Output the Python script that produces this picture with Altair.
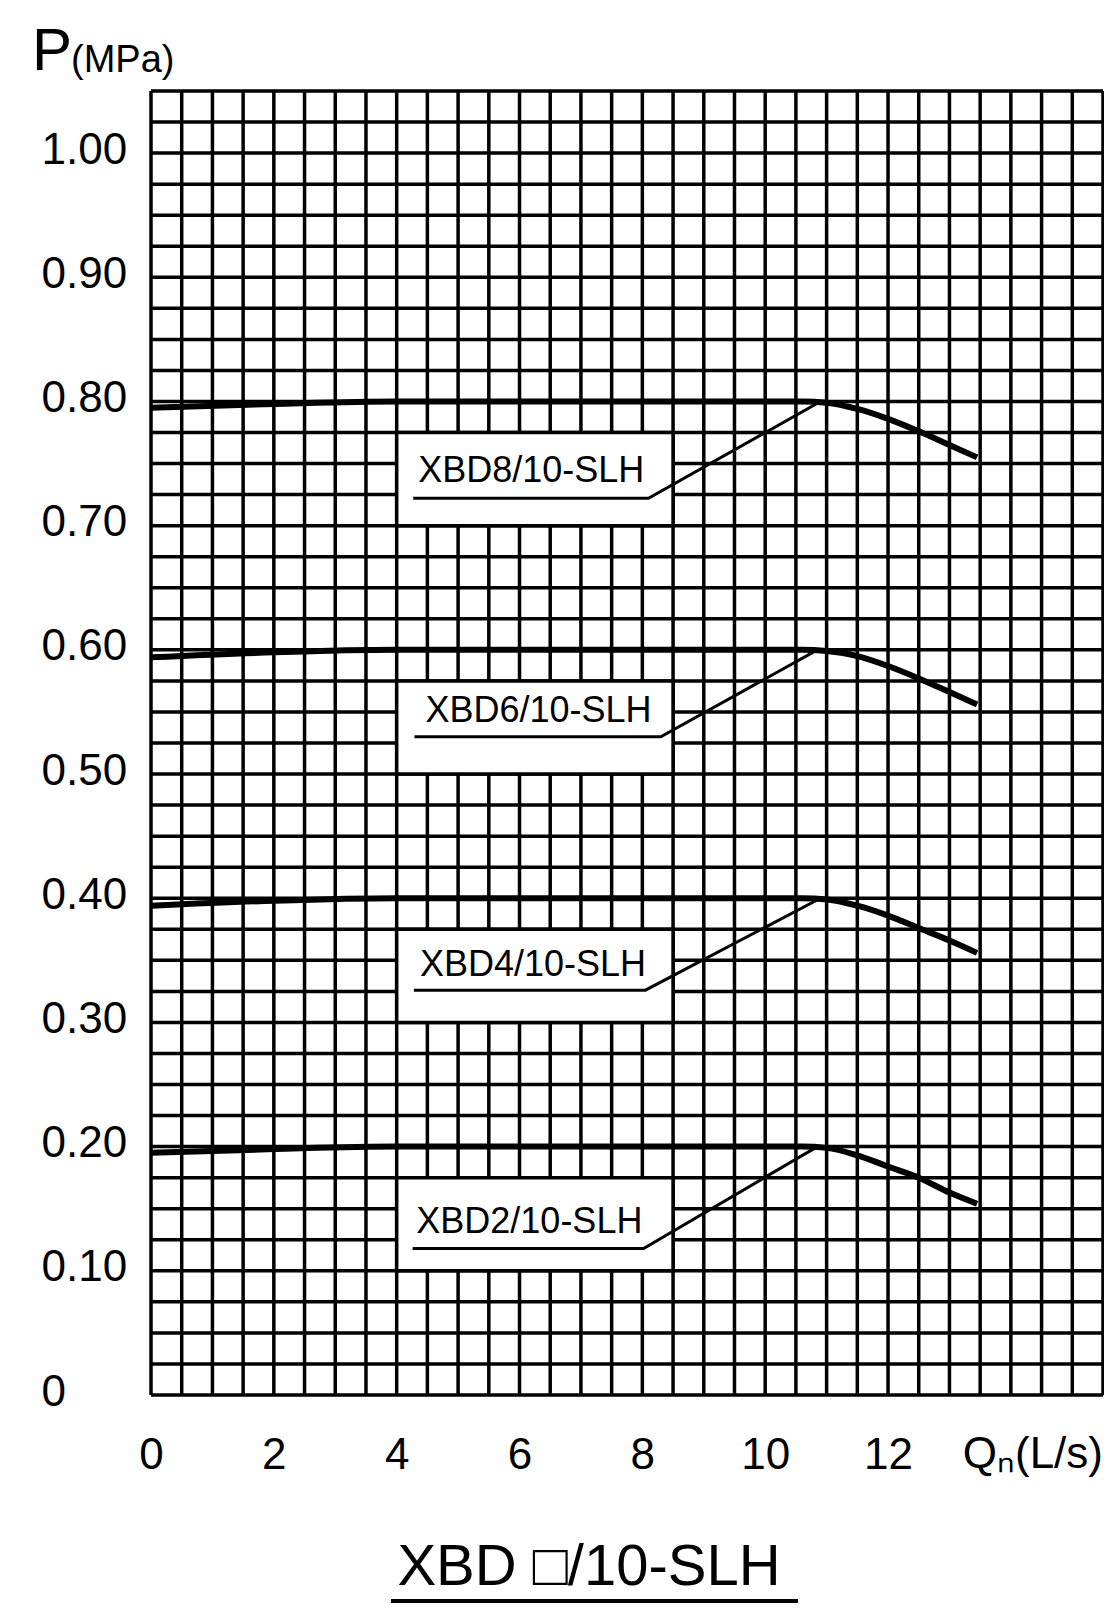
import altair as alt
import pandas as pd

FONT = "Liberation Sans, Arial, sans-serif"

# ---- data ----
flow_pts = [0, 2, 4, 10.6, 11.0, 11.5, 12.0, 12.5, 13.0, 13.45]
p_xbd8 = [0.795, 0.798, 0.800, 0.800, 0.799, 0.794, 0.786, 0.776, 0.765, 0.755]
p_xbd6 = [0.594, 0.598, 0.600, 0.600, 0.599, 0.595, 0.587, 0.577, 0.566, 0.556]
p_xbd4 = [0.394, 0.398, 0.400, 0.400, 0.399, 0.394, 0.386, 0.376, 0.366, 0.356]
p_xbd2 = [0.195, 0.198, 0.200, 0.200, 0.199, 0.193, 0.184, 0.175, 0.163, 0.154]

models = ["XBD8/10-SLH", "XBD6/10-SLH", "XBD4/10-SLH", "XBD2/10-SLH"]
nominal = [0.80, 0.60, 0.40, 0.20]
box_q0 = [4.0, 4.0, 4.0, 4.0]
box_q1 = [8.5, 8.5, 8.5, 8.5]
box_p0 = [0.70, 0.50, 0.30, 0.10]
box_p1 = [0.775, 0.575, 0.375, 0.175]
text_q = [6.19, 6.31, 6.22, 6.16]
text_p = [0.744, 0.551, 0.346, 0.139]
uline_q0 = [4.27, 4.29, 4.28, 4.26]
uline_q1 = [8.1, 8.3, 8.05, 8.02]
uline_p = [0.722, 0.530, 0.326, 0.118]
peak_q = [10.9, 10.85, 10.9, 10.85]

x_ticks = [0, 2, 4, 6, 8, 10, 12]
y_ticks = [0, 0.1, 0.2, 0.3, 0.4, 0.5, 0.6, 0.7, 0.8, 0.9, 1.0]
grid_x = [i * 0.5 for i in range(32)]
grid_y = [round(i * 0.025, 3) for i in range(43)]

# ---- tables ----
rows = []
for name, ps in zip(models, [p_xbd8, p_xbd6, p_xbd4, p_xbd2]):
    for q, p in zip(flow_pts, ps):
        rows.append({"model": name, "q": q, "p": p})
curves = pd.DataFrame(rows)

lead_rows = []
for i, name in enumerate(models):
    lead_rows += [
        {"model": name, "o": 0, "q": uline_q0[i], "p": uline_p[i]},
        {"model": name, "o": 1, "q": uline_q1[i], "p": uline_p[i]},
        {"model": name, "o": 2, "q": peak_q[i], "p": nominal[i]},
    ]
leaders = pd.DataFrame(lead_rows)

boxes = pd.DataFrame({"model": models, "q0": box_q0, "q1": box_q1,
                      "p0": box_p0, "p1": box_p1, "tq": text_q, "tp": text_p})

W, H = 952, 1304
xscale = alt.Scale(domain=[0, 15.5], nice=False, zero=False)
yscale = alt.Scale(domain=[0, 1.05], nice=False, zero=False)

y_label_expr = "datum.value == 0 ? '0' : format(datum.value, '.2f')"

xaxis = alt.Axis(values=x_ticks, grid=False, domain=False, ticks=False, tickSize=0,
                 format="d", labelFont=FONT, labelFontSize=44, labelColor="black",
                 labelPadding=60, labelBaseline="middle", labelFlush=False,
                 labelOverlap=False, labelBound=False, title=None)
yaxis = alt.Axis(values=y_ticks, grid=False, domain=False, ticks=False, tickSize=0,
                 labelExpr=y_label_expr, labelFont=FONT, labelFontSize=44,
                 labelColor="black", labelPadding=110, labelAlign="left",
                 labelBaseline="middle", labelOffset=-3, labelOverlap=False,
                 labelBound=False, labelFlush=False, title=None)

vgrid = alt.Chart(pd.DataFrame({"g": grid_x})).mark_rule(color="black", strokeWidth=3.5).encode(
    x=alt.X("g:Q", scale=xscale, axis=xaxis)
)
hgrid = alt.Chart(pd.DataFrame({"g": grid_y})).mark_rule(color="black", strokeWidth=3.5).encode(
    y=alt.Y("g:Q", scale=yscale, axis=yaxis)
)

box_layer = alt.Chart(boxes).mark_rect(fill="white", stroke="black", strokeWidth=3.5).encode(
    x=alt.X("q0:Q", scale=xscale), x2="q1:Q",
    y=alt.Y("p0:Q", scale=yscale), y2="p1:Q",
)

text_layer = alt.Chart(boxes).mark_text(
    font=FONT, fontSize=36, color="black", align="center", baseline="middle"
).encode(
    x=alt.X("tq:Q", scale=xscale), y=alt.Y("tp:Q", scale=yscale), text="model:N"
)

leader_layer = alt.Chart(leaders).mark_line(color="black", strokeWidth=3).encode(
    x=alt.X("q:Q", scale=xscale), y=alt.Y("p:Q", scale=yscale),
    detail="model:N", order="o:Q",
)

curve_layer = alt.Chart(curves).mark_line(
    color="black", strokeWidth=6, interpolate="monotone"
).encode(
    x=alt.X("q:Q", scale=xscale),
    y=alt.Y("p:Q", scale=yscale),
    detail="model:N",
)


def label(txt, x, y, size, align="left", baseline="alphabetic"):
    return alt.Chart(pd.DataFrame({"t": [txt]})).mark_text(
        font=FONT, fontSize=size, color="black", align=align, baseline=baseline
    ).encode(text="t:N", x=alt.value(x), y=alt.value(y))


p_label = label("P", -119, -21, 60)
mpa_label = label("(MPa)", -80, -19, 38)
q_label = label("Qₙ(L/s)", W, H + 60, 44, align="right", baseline="middle")
title_label = label("XBD □/10-SLH", 438, H + 190, 58, align="center")
title_rule = alt.Chart(pd.DataFrame({"a": [0]})).mark_rule(color="black", strokeWidth=4).encode(
    x=alt.value(240), x2=alt.value(647), y=alt.value(H + 206)
)

chart = alt.layer(
    vgrid, hgrid, box_layer, leader_layer, text_layer, curve_layer,
    p_label, mpa_label, q_label, title_label, title_rule
).properties(
    width=W, height=H,
    autosize=alt.AutoSizeParams(type="none"),
    padding={"left": 143, "top": 83, "right": 1, "bottom": 211},
).configure_view(stroke="black", strokeWidth=4).configure(background="white")

chart.save("out.html", embed_options={"renderer": "svg", "actions": False})
